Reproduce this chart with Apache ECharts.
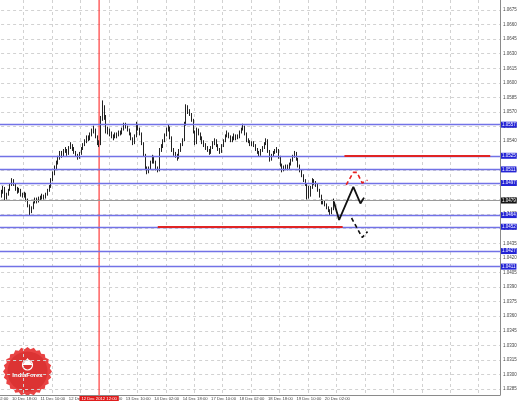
<!DOCTYPE html>
<html><head><meta charset="utf-8">
<script src="https://cdn.jsdelivr.net/npm/echarts@6/dist/echarts.min.js"></script>
<style>html,body{margin:0;padding:0;background:#fff}#c{width:518px;height:403px}</style>
</head><body><div id="c"></div>
<script>
// ---- time axis ----
const timeLabels = ['10 Dec 02:00','10 Dec 18:00','11 Dec 10:00','12 Dec 02:00','12 Dec 18:00','13 Dec 10:00','14 Dec 02:00','14 Dec 18:00','17 Dec 10:00','18 Dec 02:00','18 Dec 18:00','19 Dec 10:00','20 Dec 02:00'];
const barsPerLabel = 16;
const categoryCount = 284;
const firstBar = 2;
const firstOpen = 1.0480;

// ---- hourly bars (close / high / low), bars 2..190 ----
const closes = [
1.0483,1.0488,1.0492,1.0481,1.0485,1.0490,1.0495,1.0500,1.0496,1.0491,
1.0488,1.0490,1.0485,1.0484,1.0486,1.0480,1.0474,1.0467,1.0472,1.0477,
1.0480,1.0478,1.0482,1.0481,1.0484,1.0482,1.0485,1.0489,1.0493,1.0500,
1.0507,1.0513,1.0518,1.0523,1.0528,1.0525,1.0530,1.0531,1.0527,1.0533,
1.0536,1.0532,1.0529,1.0526,1.0523,1.0527,1.0533,1.0536,1.0540,1.0544,
1.0542,1.0547,1.0550,1.0552,1.0545,1.0539,1.0537,1.0563,1.0575,1.0565,
1.0550,1.0552,1.0548,1.0545,1.0544,1.0547,1.0546,1.0549,1.0548,1.0552,
1.0557,1.0555,1.0552,1.0548,1.0543,1.0538,1.0545,1.0557,1.0553,1.0548,
1.0538,1.0526,1.0513,1.0508,1.0512,1.0518,1.0524,1.0519,1.0512,1.0510,
1.0531,1.0535,1.0540,1.0546,1.0552,1.0554,1.0544,1.0531,1.0527,1.0525,
1.0523,1.0530,1.0536,1.0541,1.0558,1.0575,1.0571,1.0568,1.0562,1.0550,
1.0538,1.0552,1.0548,1.0543,1.0539,1.0536,1.0533,1.0531,1.0528,1.0533,
1.0538,1.0541,1.0536,1.0532,1.0529,1.0535,1.0540,1.0545,1.0548,1.0545,
1.0541,1.0542,1.0546,1.0543,1.0544,1.0549,1.0552,1.0555,1.0548,1.0541,
1.0540,1.0537,1.0538,1.0536,1.0532,1.0529,1.0526,1.0530,1.0533,1.0537,
1.0541,1.0530,1.0521,1.0525,1.0528,1.0530,1.0531,1.0524,1.0516,1.0510,
1.0513,1.0514,1.0512,1.0516,1.0520,1.0524,1.0528,1.0522,1.0515,1.0510,
1.0505,1.0500,1.0496,1.0493,1.0484,1.0492,1.0500,1.0497,1.0495,1.0490,
1.0484,1.0477,1.0478,1.0475,1.0472,1.0469,1.0466,1.0470,1.0479];
const highs = [
1.0485,1.0490,1.0494,1.0493,1.0487,1.0491,1.0497,1.0502,1.0501,1.0497,
1.0493,1.0492,1.0491,1.0487,1.0488,1.0487,1.0481,1.0475,1.0473,1.0478,
1.0482,1.0482,1.0483,1.0484,1.0486,1.0485,1.0487,1.0491,1.0495,1.0502,
1.0509,1.0515,1.0520,1.0525,1.0530,1.0530,1.0532,1.0534,1.0532,1.0535,
1.0539,1.0537,1.0534,1.0530,1.0527,1.0529,1.0534,1.0538,1.0542,1.0546,
1.0546,1.0549,1.0553,1.0556,1.0553,1.0546,1.0541,1.0566,1.0582,1.0577,
1.0567,1.0555,1.0553,1.0550,1.0547,1.0549,1.0549,1.0551,1.0551,1.0554,
1.0559,1.0559,1.0556,1.0553,1.0549,1.0544,1.0547,1.0560,1.0558,1.0554,
1.0549,1.0539,1.0527,1.0514,1.0514,1.0520,1.0526,1.0525,1.0520,1.0514,
1.0533,1.0537,1.0542,1.0548,1.0554,1.0557,1.0555,1.0545,1.0533,1.0529,
1.0527,1.0532,1.0538,1.0543,1.0560,1.0578,1.0577,1.0573,1.0569,1.0563,
1.0551,1.0554,1.0553,1.0549,1.0545,1.0541,1.0538,1.0535,1.0532,1.0535,
1.0540,1.0543,1.0542,1.0537,1.0533,1.0537,1.0542,1.0547,1.0551,1.0549,
1.0546,1.0545,1.0548,1.0547,1.0547,1.0551,1.0554,1.0558,1.0556,1.0549,
1.0543,1.0541,1.0540,1.0540,1.0537,1.0533,1.0530,1.0532,1.0535,1.0539,
1.0543,1.0542,1.0531,1.0527,1.0530,1.0532,1.0534,1.0532,1.0525,1.0517,
1.0515,1.0516,1.0516,1.0518,1.0522,1.0526,1.0530,1.0529,1.0523,1.0516,
1.0511,1.0506,1.0501,1.0497,1.0494,1.0494,1.0502,1.0501,1.0499,1.0496,
1.0491,1.0485,1.0480,1.0479,1.0476,1.0473,1.0470,1.0472,1.0481];
const lows = [
1.0478,1.0482,1.0486,1.0479,1.0480,1.0484,1.0489,1.0494,1.0494,1.0489,
1.0486,1.0487,1.0483,1.0482,1.0482,1.0478,1.0472,1.0464,1.0466,1.0470,
1.0476,1.0476,1.0477,1.0479,1.0480,1.0480,1.0481,1.0484,1.0488,1.0492,
1.0499,1.0505,1.0511,1.0516,1.0521,1.0523,1.0524,1.0528,1.0525,1.0526,
1.0532,1.0530,1.0527,1.0524,1.0521,1.0522,1.0526,1.0531,1.0535,1.0538,
1.0540,1.0541,1.0545,1.0548,1.0543,1.0536,1.0534,1.0536,1.0561,1.0562,
1.0548,1.0547,1.0545,1.0543,1.0541,1.0543,1.0543,1.0545,1.0546,1.0547,
1.0551,1.0553,1.0550,1.0546,1.0541,1.0536,1.0537,1.0544,1.0551,1.0546,
1.0536,1.0524,1.0511,1.0506,1.0507,1.0511,1.0517,1.0517,1.0510,1.0508,
1.0509,1.0529,1.0533,1.0539,1.0545,1.0550,1.0542,1.0529,1.0525,1.0523,
1.0520,1.0522,1.0529,1.0535,1.0540,1.0556,1.0568,1.0566,1.0560,1.0548,
1.0536,1.0537,1.0546,1.0541,1.0537,1.0534,1.0531,1.0529,1.0526,1.0527,
1.0532,1.0536,1.0534,1.0530,1.0527,1.0528,1.0534,1.0539,1.0544,1.0543,
1.0539,1.0539,1.0541,1.0541,1.0542,1.0543,1.0548,1.0551,1.0546,1.0539,
1.0538,1.0535,1.0535,1.0534,1.0530,1.0527,1.0524,1.0525,1.0529,1.0532,
1.0536,1.0528,1.0519,1.0520,1.0524,1.0527,1.0528,1.0522,1.0514,1.0508,
1.0509,1.0511,1.0510,1.0511,1.0515,1.0519,1.0523,1.0520,1.0513,1.0508,
1.0503,1.0498,1.0494,1.0480,1.0481,1.0483,1.0491,1.0495,1.0493,1.0488,
1.0482,1.0475,1.0475,1.0473,1.0470,1.0467,1.0464,1.0465,1.0469];

// ---- price axis ----
const yTicks = [1.0675,1.0660,1.0645,1.0630,1.0615,1.0600,1.0585,1.0570,1.0555,1.0540,1.0525,1.0510,1.0495,1.0480,1.0465,1.0450,1.0435,1.0420,1.0405,1.0390,1.0375,1.0360,1.0345,1.0330,1.0315,1.0300,1.0285];
const yMin = 1.02789, yMax = 1.06853;

// ---- drawn levels / annotations ----
const blueLevels = [1.0557,1.0525,1.0511,1.0497,1.0464,1.0452,1.0427,1.0411];
const currentPrice = 1.0479;
const redUpper = {price: 1.0525, from: 196, to: 278};
const redLower = {price: 1.0452, from: 91, to: 195};
const markerBar = 58;
const markerLabel = '12 Dec 2012 12:00';
const arrowSolid = [[190,1.0478],[193,1.0459],[201,1.0493],[205,1.0476],[207,1.0482]];
const arrowRedDashed = [[197,1.0495],[201,1.0508],[203,1.0508],[206,1.0497],[209,1.0500]];
const arrowBlackDashed = [[200,1.0461],[206,1.0441],[209,1.0447]];

// ---- build ----
const categories = [];
for (let i = 0; i < categoryCount; i++) categories.push(String(i));
const candles = closes.map((c, k) => {
  const o = k === 0 ? firstOpen : closes[k - 1];
  return [firstBar + k, o, c, lows[k], highs[k]];
});

const logoPts = [];
for (let i = 0; i < 48; i++) {
  const a = i / 48 * 2 * Math.PI;
  const r = i % 2 ? 22.5 : 24.5;
  logoPts.push([24.5 + Math.cos(a) * r, 24.5 + Math.sin(a) * r]);
}

const chart = echarts.init(document.getElementById('c'), null, {renderer: 'canvas'});
const font = 'Liberation Sans';
const lvlLabel = (txt, bg) => ({show: true, position: 'end', distance: 1, formatter: txt, color: '#fff', backgroundColor: bg, padding: [0.5, 1], fontSize: 4.5, fontFamily: font});
const redSeg = (r) => [{coord: [r.from, r.price]}, {coord: [r.to, r.price]}];
chart.setOption({
  animation: false,
  backgroundColor: '#ffffff',
  grid: {left: -4.9, right: 18, top: 0, bottom: 8, containLabel: false, outerBoundsMode: 'none'},
  xAxis: {
    type: 'category', data: categories, boundaryGap: true,
    axisLine: {show: true, lineStyle: {color: '#8a8a8a', width: 1}},
    axisTick: {show: false},
    axisLabel: {
      interval: barsPerLabel - 1, margin: 2, fontSize: 4.2, color: '#444', fontFamily: font,
      formatter: (v, idx) => {const k = idx / barsPerLabel; return (idx % barsPerLabel === 0 && k < timeLabels.length) ? timeLabels[k] : '';}
    },
    splitLine: {show: true, interval: barsPerLabel - 1, lineStyle: {color: '#d2d2d2', type: [3, 3], width: 1}}
  },
  yAxis: {
    type: 'value', position: 'right', min: yMin, max: yMax, scale: true,
    axisLine: {show: true, lineStyle: {color: '#8a8a8a', width: 1}},
    axisTick: {show: false, customValues: yTicks},
    axisLabel: {customValues: yTicks, margin: 3, fontSize: 4.5, color: '#444', fontFamily: font, formatter: v => v.toFixed(4)},
    splitLine: {show: true, lineStyle: {color: '#d2d2d2', type: [3, 3], width: 1}}
  },
  series: [
    {
      type: 'line', data: [[markerBar, yMin], [markerBar, yMax]], symbol: 'none', z: 1,
      lineStyle: {color: '#ff3b3b', width: 1.2},
      markLine: {
        silent: true, symbol: 'none', animation: false,
        lineStyle: {color: 'rgba(0,0,0,0)', width: 1},
        label: {show: true, position: 'start', distance: 1, formatter: markerLabel, color: '#ffffff', backgroundColor: '#e01c1c', padding: [0.5, 2], fontSize: 4.2, fontFamily: font},
        data: [{xAxis: markerBar}]
      }
    },
    {
      type: 'candlestick', data: candles, encode: {x: 0, y: [1, 2, 3, 4]},
      barWidth: 1.2, z: 3,
      itemStyle: {color: '#ffffff', color0: '#000000', borderColor: '#222222', borderColor0: '#222222', borderWidth: 1},
      markLine: {
        silent: true, symbol: 'none', animation: false, precision: 4,
        data: [
          ...blueLevels.map(v => ({yAxis: v, lineStyle: {color: '#7272e6', width: 1.3, type: 'solid'}, label: lvlLabel(v.toFixed(4), '#2424d6')})),
          {yAxis: currentPrice, lineStyle: {color: '#9a9a9a', width: 1, type: 'solid'}, label: lvlLabel(currentPrice.toFixed(4), '#151515')}
        ]
      }
    },
    {
      type: 'line', data: arrowSolid, symbol: 'none', lineStyle: {color: '#111', width: 1.8}, z: 5,
      markLine: {
        silent: true, symbol: 'none', animation: false, precision: 4,
        lineStyle: {color: '#e02424', width: 2, type: 'solid'},
        label: {show: false},
        data: [redSeg(redUpper), redSeg(redLower)]
      }
    },
    {type: 'line', data: arrowRedDashed, symbol: 'none', lineStyle: {color: '#e62020', width: 1.6, type: [4, 3]}, z: 5},
    {type: 'line', data: arrowBlackDashed, symbol: 'none', lineStyle: {color: '#111', width: 1.6, type: [4, 3]}, z: 5}
  ],
  graphic: [{
    type: 'group', left: 3, top: 347, z: 10,
    children: [
      {type: 'polygon', shape: {points: logoPts}, style: {fill: '#e84343'}},
      {type: 'circle', shape: {cx: 24.5, cy: 24.5, r: 20}, style: {fill: '#dc3333'}},
      {type: 'circle', shape: {cx: 24.5, cy: 18, r: 5}, style: {fill: 'none', stroke: '#ffffff', lineWidth: 1.2}},
      {type: 'polygon', shape: {points: [[19.5, 18], [24.5, 11], [29.5, 18]]}, style: {fill: '#ffffff'}},
      {type: 'text', style: {text: 'IndiaForex', x: 24.5, y: 28, align: 'center', verticalAlign: 'middle', fill: '#ffffff', font: 'bold 6px "Liberation Sans"'}}
    ]
  }]
});
</script></body></html>
